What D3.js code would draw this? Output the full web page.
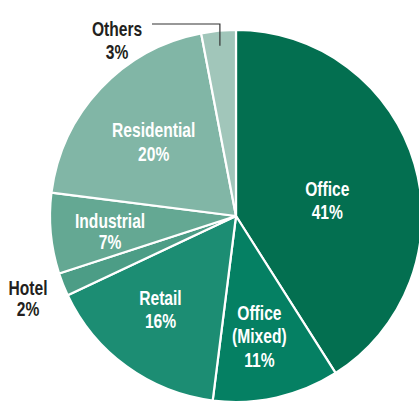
<!DOCTYPE html>
<html>
<head>
<meta charset="utf-8">
<script src="https://cdn.jsdelivr.net/npm/d3@7"></script>
<style>
html,body{margin:0;padding:0;background:#fff;overflow:hidden;}
svg{display:block;}
text{font-family:"Liberation Sans",Arial,sans-serif;font-weight:bold;}
</style>
</head>
<body>
<svg id="chart" width="419" height="401"></svg>
<script>
const categories = ["Office", "Office (Mixed)", "Retail", "Hotel", "Industrial", "Residential", "Others"];
const values = [41, 11, 16, 2, 7, 20, 3];
const labelLines = [["Office","41%"],["Office","(Mixed)","11%"],["Retail","16%"],["Hotel","2%"],["Industrial","7%"],["Residential","20%"],["Others","3%"]];
const colors = ["#036f50","#058063","#1c8d73","#4c9d86","#64a893","#81b6a6","#a1c6ba"];

const W = 419, H = 401;
const cx = 236, cy = 216, R = 186;
const svg = d3.select("#chart");
const g = svg.append("g").attr("transform", `translate(${cx},${cy})`);

const data = categories.map((c, i) => ({name: c, value: values[i], lines: labelLines[i], color: colors[i]}));
const pie = d3.pie().value(d => d.value).sort(null);
const arcs = pie(data);
const arc = d3.arc().innerRadius(0).outerRadius(R);

g.selectAll("path.slice").data(arcs).join("path")
  .attr("class", "slice")
  .attr("d", arc)
  .attr("fill", d => d.data.color)
  .attr("stroke", "#fff")
  .attr("stroke-width", 2.2)
  .attr("stroke-linejoin", "round");

// label placement styles
const labelStyle = {
  "Office": {f: 0.5, dx: 2, dy: 10, lh: 23.5, inside: true},
  "Office (Mixed)": {f: 0.65, dx: -3, dy: 2, lh: 23.5, inside: true},
  "Retail": {f: 0.645, dx: -5, dy: -4, lh: 23.5, inside: true},
  "Industrial": {f: 0.68, dx: 0, dy: 3, lh: 21, inside: true},
  "Residential": {f: 0.6, dx: -1, dy: 2, lh: 23.5, inside: true},
  "Hotel": {abs: [28 - cx, 298.5 - cy], lh: 21, inside: false},
  "Others": {abs: [117 - cx, 40.5 - cy], lh: 23, inside: false}
};
const fs = 20;
const sx = 0.78;

arcs.forEach(a => {
  const s = labelStyle[a.data.name];
  let x, y;
  if (s.abs) { [x, y] = s.abs; }
  else {
    const la = d3.arc().innerRadius(R * s.f).outerRadius(R * s.f);
    const c = la.centroid(a);
    x = c[0] + s.dx; y = c[1] + s.dy;
  }
  const n = a.data.lines.length;
  const y0 = -(n - 1) * s.lh / 2 + fs * 0.36;
  const t = g.append("text")
    .attr("transform", `translate(${x},${y}) scale(${sx},1)`)
    .attr("text-anchor", "middle")
    .attr("font-size", fs)
    .attr("fill", s.inside ? "#ffffff" : "#231f20");
  a.data.lines.forEach((ln, i) => {
    t.append("tspan").attr("x", 0).attr("y", y0 + i * s.lh).text(ln);
  });
});

// leader line for Others
const oth = arcs[6];
const la = d3.arc().innerRadius(R * 0.92).outerRadius(R * 0.92);
const tip = la.centroid(oth);
const ly = 24 - cy;
g.append("path")
  .attr("d", d3.line()([[152 - cx, ly], [tip[0], ly], [tip[0], tip[1]]]))
  .attr("fill", "none")
  .attr("stroke", "#333")
  .attr("stroke-width", 1.2);
</script>
</body>
</html>
